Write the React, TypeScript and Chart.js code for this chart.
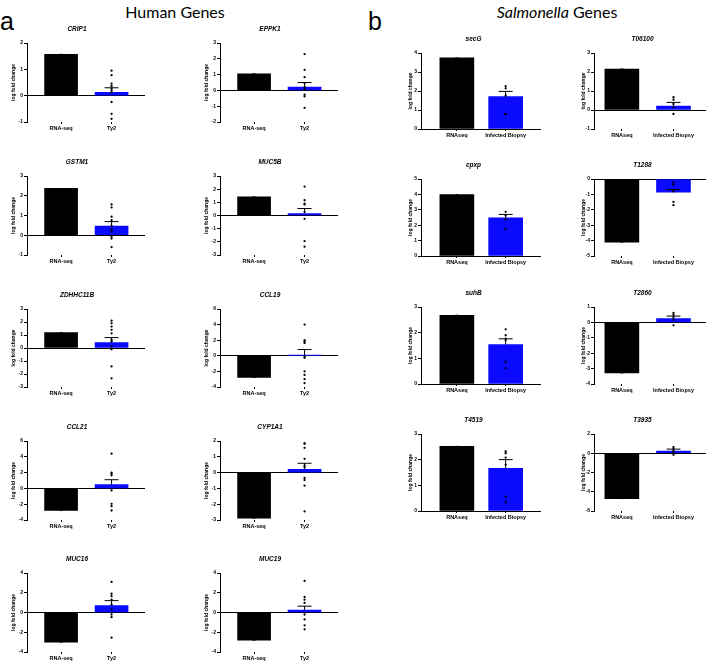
import React, { useEffect, useRef } from 'react';
import { Chart, registerables } from 'chart.js';
Chart.register(...registerables);

const FONT = '"Liberation Sans", Arial, sans-serif';

// ---------- Human genes (panel a) ----------
const humanGenes = ['CRIP1', 'EPPK1', 'GSTM1', 'MUC5B', 'ZDHHC11B', 'CCL19', 'CCL21', 'CYP1A1', 'MUC16', 'MUC19'];
const humanCategories = ['RNA-seq', 'Ty2'];
const humanRnaSeq = [1.57, 1.05, 2.37, 1.41, 1.18, -2.77, -2.8, -2.88, -3.0, -2.8];
const humanTy2Mean = [0.13, 0.21, 0.47, 0.15, 0.42, 0.08, 0.47, 0.21, 0.7, 0.24];
const humanTy2Sem = [0.17, 0.29, 0.22, 0.38, 0.38, 0.72, 0.63, 0.38, 0.5, 0.4];
const humanTy2Points = [
  [0.95, 0.78, 0.46, 0.37, 0.27, 0.2, 0.12, -0.24, -0.69, -0.88],
  [2.3, 1.3, 0.84, 0.46, 0.2, 0.08, -0.27, -0.38, -1.1],
  [1.56, 1.41, 0.94, 0.77, 0.47, 0.3, 0.18, -0.07, -0.17, -0.6],
  [2.2, 1.16, 0.9, 0.83, 0.28, -0.25, -1.94, -2.37],
  [2.1, 1.9, 1.65, 1.4, 1.13, 0.62, 0.5, 0.11, -0.1, -1.42, -2.33],
  [4.0, 2.0, 1.8, 1.65, -0.13, -0.25, -2.0, -2.45, -3.0, -3.5],
  [4.4, 2.0, 1.86, 1.65, -0.25, -1.95, -2.25, -2.8],
  [1.86, 1.82, 1.57, 0.87, 0.44, 0.34, -0.34, -0.47, -0.83, -2.46],
  [3.1, 1.9, 1.65, 1.3, 0.8, 0.3, -0.2, -0.47, -2.55],
  [3.2, 1.58, 1.3, 0.97, -0.2, -0.7, -1.3, -1.7],
];
const humanYMin = [-1, -2, -1, -3, -3, -4, -4, -3, -4, -4];
const humanYMax = [2, 3, 3, 3, 3, 6, 6, 2, 4, 4];
const humanYStep = [1, 1, 1, 1, 1, 2, 2, 1, 2, 2];

// ---------- Salmonella genes (panel b) ----------
const salGenes = ['secG', 'T06100', 'cpxp', 'T1288', 'suhB', 'T2860', 'T4519', 'T3935'];
const salCategories = ['RNAseq', 'Infected Biopsy'];
const salRnaSeq = [3.74, 2.16, 3.99, -4.1, 2.68, -3.28, 2.52, -4.71];
const salBiopsyMean = [1.7, 0.21, 2.48, -0.86, 1.54, 0.24, 1.66, 0.23];
const salBiopsySem = [0.28, 0.19, 0.22, 0.17, 0.22, 0.17, 0.34, 0.2];
const salBiopsyPoints = [
  [2.25, 2.14, 1.75, 0.79, 0.79],
  [0.67, 0.54, 0.32, 0.14, -0.21],
  [2.87, 2.63, 2.37, 1.77],
  [-0.22, -0.37, -0.8, -1.49, -1.7],
  [2.13, 1.9, 1.77, 1.7, 0.87, 0.61],
  [0.62, 0.5, 0.35, 0.17, -0.19],
  [2.32, 2.25, 2.08, 1.8, 0.56, 0.34],
  [0.64, 0.47, 0.26, 0.12, -0.16],
];
const salYMin = [0, -1, 0, -5, 0, -4, 0, -6];
const salYMax = [4, 3, 5, 0, 3, 1, 3, 2];
const salYStep = [1, 1, 1, 1, 1, 1, 1, 2];

// ---------- layout ----------
const TH = 20; // title band
const XH = 12; // x axis band
const humanCols = [
  { axisX: 27, plotW: 118, xr: [-0.675, 1.662] },
  { axisX: 220, plotW: 118, xr: [-0.675, 1.662] },
];
const humanRows = [
  { top: 43, h: 79 },
  { top: 176, h: 79 },
  { top: 309, h: 78 },
  { top: 441, h: 79 },
  { top: 573, h: 79 },
];
const salCols = [
  { axisX: 421, plotW: 120, xr: [-0.735, 1.724] },
  { axisX: 594, plotW: 112, xr: [-0.54, 1.63] },
];
const salRows = [
  { top: 53, h: 76 },
  { top: 179, h: 77 },
  { top: 307, h: 77 },
  { top: 434, h: 77 },
];

type PanelProps = {
  gene: string;
  categories: string[];
  ref: number;
  mean: number;
  sem: number;
  points: number[];
  yMin: number;
  yMax: number;
  yStep: number;
  axisX: number;
  plotW: number;
  plotTop: number;
  plotH: number;
  yW: number;
  xr: number[];
  barW: number;
  labelSize: number;
};

function Panel(p: PanelProps) {
  const cref = useRef<HTMLCanvasElement | null>(null);
  const W = p.yW * 2 + p.plotW;
  const H = TH + p.plotH + XH;
  const left = p.axisX - p.yW;
  const top = p.plotTop - TH;

  useEffect(() => {
    const means = [p.ref, p.mean];
    const sems = [0, p.sem];
    const errorBars = {
      id: 'errorBars',
      afterDatasetsDraw(chart: any) {
        const { ctx, scales } = chart;
        const xs = scales.x;
        const ys = scales.y;
        ctx.save();
        ctx.strokeStyle = '#000';
        ctx.lineWidth = 1;
        means.forEach((m, i) => {
          const px = xs.getPixelForValue(i);
          const y0 = ys.getPixelForValue(m);
          const y1 = ys.getPixelForValue(m + sems[i]);
          const half = sems[i] ? 7 : 1.5;
          ctx.beginPath();
          ctx.moveTo(px, y0);
          ctx.lineTo(px, y1);
          ctx.moveTo(px - half, y1);
          ctx.lineTo(px + half, y1);
          ctx.stroke();
        });
        ctx.restore();
      },
    };
    const chart = new Chart(cref.current as HTMLCanvasElement, {
      type: 'bar',
      data: {
        datasets: [
          {
            type: 'scatter',
            data: p.points.map((v) => ({ x: 1, y: v })),
            pointRadius: 1.15,
            pointBackgroundColor: '#000',
            pointBorderWidth: 0,
            order: 0,
          } as any,
          {
            type: 'bar',
            data: [
              { x: 0, y: p.ref },
              { x: 1, y: p.mean },
            ],
            backgroundColor: ['#000000', '#0a0aff'],
            borderWidth: 0,
            barThickness: p.barW,
            order: 1,
          } as any,
        ],
      },
      options: {
        animation: false,
        responsive: false,
        events: [],
        layout: { padding: { left: 0, right: p.yW, top: 0, bottom: 0 } },
        plugins: {
          legend: { display: false },
          tooltip: { enabled: false },
          title: {
            display: true,
            text: p.gene,
            color: '#000',
            font: { family: FONT, size: 6.5, weight: 'bold', style: 'italic', lineHeight: 1 },
            padding: { top: 2.75, bottom: 10.75 },
          },
        },
        scales: {
          x: {
            type: 'linear',
            offset: false,
            min: p.xr[0],
            max: p.xr[1],
            afterBuildTicks: (s: any) => {
              s.ticks = p.categories.map((_, i) => ({ value: i }));
            },
            afterFit: (s: any) => {
              s.height = XH;
            },
            ticks: {
              callback: (v: any) => p.categories[v] ?? '',
              color: '#000',
              font: { family: FONT, size: p.labelSize, weight: 'bold' },
              padding: 1,
              autoSkip: false,
              maxRotation: 0,
            },
            grid: {
              display: true,
              offset: false,
              drawOnChartArea: false,
              drawTicks: true,
              tickLength: 2,
              color: '#000',
            },
            border: { display: false },
          },
          y: {
            min: p.yMin,
            max: p.yMax,
            afterFit: (s: any) => {
              s.width = p.yW;
            },
            ticks: {
              stepSize: p.yStep,
              color: '#000',
              font: { family: FONT, size: 5, weight: 'bold' },
              padding: 1,
              autoSkip: false,
            },
            grid: {
              drawOnChartArea: true,
              color: (c: any) => (c.tick && c.tick.value === 0 ? '#000' : 'rgba(0,0,0,0)'),
              tickColor: '#000',
              tickLength: 3,
              lineWidth: 1,
            },
            border: { display: true, color: '#000', width: 1 },
            title: {
              display: true,
              text: 'log fold change',
              color: '#000',
              font: { family: FONT, size: 5, weight: 'bold', lineHeight: 1 },
              padding: { top: 2, bottom: 0 },
            },
          },
        },
      } as any,
      plugins: [errorBars],
    });
    return () => chart.destroy();
  }, []);

  return (
    <canvas
      ref={cref}
      width={W}
      height={H}
      style={{ position: 'absolute', left, top, width: W, height: H }}
    />
  );
}

export default function App() {
  const panels: React.ReactNode[] = [];
  humanGenes.forEach((g, i) => {
    const col = humanCols[i % 2];
    const row = humanRows[Math.floor(i / 2)];
    panels.push(
      <Panel
        key={'h' + g}
        gene={g}
        categories={humanCategories}
        ref={humanRnaSeq[i]}
        mean={humanTy2Mean[i]}
        sem={humanTy2Sem[i]}
        points={humanTy2Points[i]}
        yMin={humanYMin[i]}
        yMax={humanYMax[i]}
        yStep={humanYStep[i]}
        axisX={col.axisX}
        plotW={col.plotW}
        plotTop={row.top}
        plotH={row.h}
        yW={18}
        xr={col.xr}
        barW={33}
        labelSize={5.5}
      />
    );
  });
  salGenes.forEach((g, i) => {
    const col = salCols[i % 2];
    const row = salRows[Math.floor(i / 2)];
    panels.push(
      <Panel
        key={'s' + g}
        gene={g}
        categories={salCategories}
        ref={salRnaSeq[i]}
        mean={salBiopsyMean[i]}
        sem={salBiopsySem[i]}
        points={salBiopsyPoints[i]}
        yMin={salYMin[i]}
        yMax={salYMax[i]}
        yStep={salYStep[i]}
        axisX={col.axisX}
        plotW={col.plotW}
        plotTop={row.top}
        plotH={row.h}
        yW={15}
        xr={col.xr}
        barW={34}
        labelSize={5.5}
      />
    );
  });

  const head: React.CSSProperties = {
    position: 'absolute',
    fontFamily: 'Lato, "Liberation Sans", Arial, sans-serif',
    fontSize: 16,
    lineHeight: '16px',
    color: '#000',
    whiteSpace: 'nowrap',
    textAlign: 'center',
  };
  const letter: React.CSSProperties = {
    position: 'absolute',
    fontFamily: '"Liberation Sans", Arial, sans-serif',
    fontSize: 25,
    lineHeight: '25px',
    color: '#000',
  };

  return (
    <div
      style={{
        position: 'absolute',
        left: 0,
        top: 0,
        width: 710,
        height: 664,
        overflow: 'hidden',
        background: '#fff',
      }}
    >
      <div style={{ ...head, left: 75, width: 200, top: 4 }}>Human Genes</div>
      <div style={{ ...head, left: 457, width: 200, top: 4 }}>
        <i>Salmonella</i> Genes
      </div>
      <div style={{ ...letter, left: 0, top: 9 }}>a</div>
      <div style={{ ...letter, left: 368, top: 9 }}>b</div>
      {panels}
    </div>
  );
}
